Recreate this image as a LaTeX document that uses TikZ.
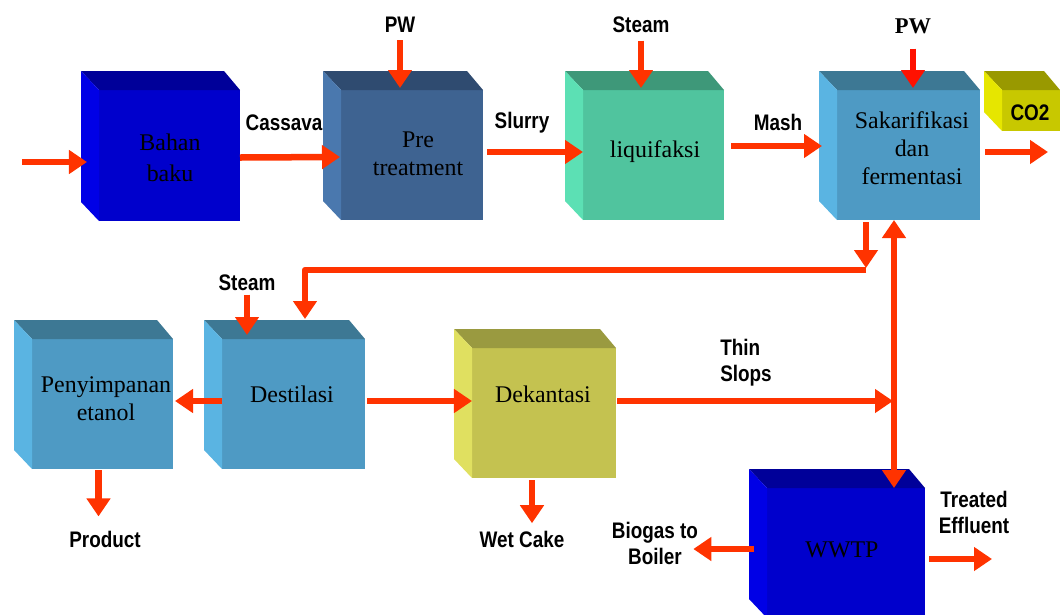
\documentclass[tikz,border=0pt]{standalone}
\usepackage{fontspec}
\setmainfont{Liberation Serif}
\newfontfamily\lblfont[FakeStretch=0.84]{Liberation Sans}
\usetikzlibrary{calc}
\usetikzlibrary{arrows.meta}
\definecolor{flowred}{HTML}{FF3300}
\definecolor{pwred}{HTML}{FF1100}
\definecolor{bluefront}{HTML}{0000CC}
\definecolor{bluetop}{HTML}{000099}
\definecolor{blueside}{HTML}{0000E6}
\definecolor{prefront}{HTML}{3E6391}
\definecolor{pretop}{HTML}{2F4B70}
\definecolor{preside}{HTML}{4A78AE}
\definecolor{liqfront}{HTML}{50C49E}
\definecolor{liqtop}{HTML}{3E9879}
\definecolor{liqside}{HTML}{5CE0B4}
\definecolor{skyfront}{HTML}{4E9AC4}
\definecolor{skytop}{HTML}{3D7894}
\definecolor{skyside}{HTML}{5AB4E2}
\definecolor{dekfront}{HTML}{C4C250}
\definecolor{dektop}{HTML}{9A9A40}
\definecolor{dekside}{HTML}{E0E060}
\definecolor{cofront}{HTML}{C8C800}
\definecolor{cotop}{HTML}{999900}
\definecolor{coside}{HTML}{E6E600}
\newcommand{\pxu}{0.025cm}
\newcommand{\blockfaces}[3]{%
  \fill[#2] (#1.north west) -- ++(-18,-19) -- ($(#1.north east)+(-16,-19)$) -- (#1.north east) -- cycle;
  \fill[#3] (#1.north west) -- ++(-18,-19) -- ($(#1.south west)+(-18,-19)$) -- (#1.south west) -- cycle;}

\begin{document}
\begin{tikzpicture}[x=0.025cm, y=-0.025cm, line join=round, >={Triangle[length=0.45cm,width=0.575cm]}]
\tikzstyle{block}=[inner sep=0, outer sep=0, minimum width=141*\pxu, minimum height=130*\pxu]
\tikzstyle{blocktext}=[inner sep=0, align=center, font=\fontsize{17}{19.8}\selectfont]
\tikzstyle{stream}=[inner sep=0, align=center, font=\lblfont\bfseries\fontsize{16}{18.5}\selectfont]
\tikzstyle{flow}=[draw=flowred, line width=0.1625cm, ->]
\useasboundingbox (0,0) rectangle (1060,614);
\clip (0,0) rectangle (1060,614);

\node[block, fill=bluefront, minimum height=131*\pxu] (bahan) at (169.5,155.5) {};
\node[block, fill=prefront, minimum width=142*\pxu] (pre) at (412,155) {};
\node[block, fill=liqfront] (liq) at (653.5,155) {};
\node[block, fill=skyfront, minimum width=143*\pxu] (sak) at (908.5,155) {};
\node[block, fill=cofront, minimum width=58*\pxu, minimum height=41*\pxu] (co2) at (1031,110.5) {};
\node[block, fill=skyfront] (peny) at (102.5,404) {};
\node[block, fill=skyfront, minimum width=143*\pxu] (dest) at (293.5,404) {};
\node[block, fill=dekfront, minimum width=144*\pxu] (dek) at (544,413) {};
\node[block, fill=bluefront, minimum width=158*\pxu] (wwtp) at (846,553) {};
\blockfaces{bahan}{bluetop}{blueside}
\blockfaces{pre}{pretop}{preside}
\blockfaces{liq}{liqtop}{liqside}
\blockfaces{sak}{skytop}{skyside}
\blockfaces{co2}{cotop}{coside}
\blockfaces{peny}{skytop}{skyside}
\blockfaces{dest}{skytop}{skyside}
\blockfaces{dek}{dektop}{dekside}
\blockfaces{wwtp}{bluetop}{blueside}

\node[blocktext, font=\fontsize{17}{22}\selectfont] (bahantxt) at (170,158) {Bahan\\baku};
\node[blocktext] (pretxt) at (418,154) {Pre\\treatment};
\node[blocktext, anchor=base] (liqtxt) at (655,157) {liquifaksi};
\node[blocktext] (saktxt) at (912,148) {Sakarifikasi\\dan\\fermentasi};
\node[blocktext] (penytxt) at (106,399) {Penyimpanan\\etanol};
\node[blocktext, anchor=base] (desttxt) at (292,402) {Destilasi};
\node[blocktext, anchor=base] (dektxt) at (543,402) {Dekantasi};
\node[blocktext, anchor=base] (wwtptxt) at (842,557) {WWTP};
\node[stream, anchor=base] (co2txt) at (1030,120) {CO2};

\node[stream, anchor=base] (cassava) at (284,130) {Cassava};
\node[stream, anchor=base] (pw1) at (400,32) {PW};
\node[stream, anchor=base] (slurry) at (522,128) {Slurry};
\node[stream, anchor=base] (steam1) at (641,32) {Steam};
\node[stream, anchor=base] (mash) at (778,130) {Mash};
\node[inner sep=0, anchor=base, font=\bfseries\fontsize{16}{19}\selectfont] (pw2) at (913,33) {PW};
\node[stream, anchor=base] (steam2) at (247,290) {Steam};
\node[stream, align=left] (slopstxt) at (746,363) {Thin\\Slops};
\node[stream, anchor=base] (product) at (105,547) {Product};
\node[stream, anchor=base] (wetcake) at (522,547) {Wet Cake};
\node[stream] (biogas) at (655,543) {Biogas to\\Boiler};
\node[stream] (treated) at (974,512) {Treated\\Effluent};

\coordinate (feed) at (22,162);
\coordinate (split) at (866,270);
\coordinate (riser) at (894,0);
\coordinate (slops) at (893,401);
\coordinate (proddrop) at ($(peny.south)+(-4,0)$);
\coordinate (wetdrop) at ($(dek.south)+(-12,0)$);
\coordinate (gasout) at ($(wwtp.west)+(-13,-4)$);
\coordinate (effout) at ($(wwtp.east)+(4,6)$);

\draw[flow, shorten >=0.3cm] (feed) -- (feed -| bahan.west);
\draw[flow] ($(bahan.east)+(0,2)$) -- ($(pre.west)+(-1,2)$);
\draw[flow, shorten <=0.2cm, shorten >=0.05cm] (pw1.south) -- (pw1.south |- pre.north);
\draw[flow] ($(pre.east)+(4,-3)$) -- ($(liq.west)+(0,-3)$);
\draw[flow, shorten <=0.2cm, shorten >=0.05cm] (steam1.south) -- (steam1.south |- liq.north);
\draw[flow] ($(liq.east)+(7,-9)$) -- ($(sak.west)+(-15,-9)$);
\draw[flow, draw=pwred, shorten <=0.375cm, shorten >=0.05cm] (pw2.south) -- (pw2.south |- sak.north);
\draw[flow] ($(sak.east)+(5,-3)$) -- ++(63,0);
\draw[flow, shorten <=0.05cm, shorten >=0.05cm] (split |- sak.south) -- (split);
\draw[flow] (split) -| ($(dest.north)+(11.5,-20)$);
\draw[flow, shorten <=0.1cm, shorten >=0.1cm] (steam2.south) -- (steam2.south |- dest.north);
\draw[flow] ($(dest.west)+(0,-3)$) -- ($(peny.east)+(2,-3)$);
\draw[flow] ($(dest.east)+(2,-3)$) -- ($(dek.west)+(0,-12)$);
\draw[flow] ($(dek.east)+(1,-12)$) -- (slops);
\draw[flow, <->] (riser |- wwtp.north) -- (riser |- sak.south);
\draw[flow, shorten <=0.03cm, shorten >=0.35cm] (proddrop) -- (proddrop |- product.north);
\draw[flow, shorten <=0.05cm, shorten >=0.18cm] (wetdrop) -- (wetdrop |- wetcake.north);
\draw[flow, shorten >=-0.125cm] (gasout) -- (gasout -| biogas.east);
\draw[flow] (effout) -- ++(63,0);
\end{tikzpicture}
\end{document}
